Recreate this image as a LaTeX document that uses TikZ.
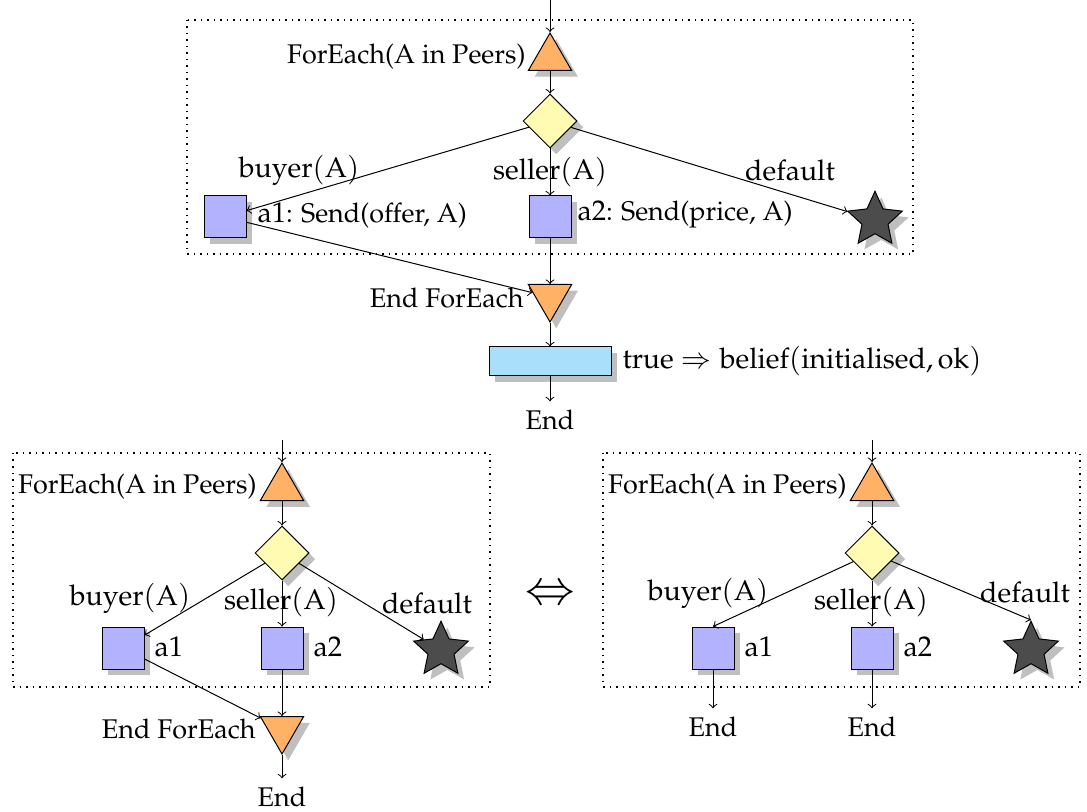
\documentclass[tikz,border=0pt]{standalone}
\usepackage[T1]{fontenc}
\usepackage{mathpazo}
\usetikzlibrary{shapes.geometric,shadows}
\definecolor{rectblue}{HTML}{AADFF9}
\newcommand{\eu}[1]{{\fontsize{11.4pt}{13pt}\selectfont\ensuremath{\mathrm{#1}}}}
\tikzset{
  shad/.style={drop shadow={shadow xshift=2.5pt,shadow yshift=-2.5pt,fill=black,opacity=0.25}},
  actbox/.style={rectangle,draw,fill=blue!30,minimum size=16.8pt,inner sep=0pt,shad},
  fortri/.style={regular polygon,regular polygon sides=3,draw,fill=orange!60,minimum size=20pt,inner sep=0pt,shad},
  endtri/.style={fortri,shape border rotate=180},
  choice/.style={diamond,draw,fill=yellow!30,minimum width=21.6pt,minimum height=21.6pt,inner sep=0pt,shad},
  fin/.style={star,star points=5,star point ratio=2.1,draw,fill=black!70,minimum size=23pt,inner sep=0pt,shad},
  belbox/.style={rectangle,draw,fill=rectblue,minimum width=48.8pt,minimum height=11.6pt,inner sep=0pt,shad},
  grp/.style={draw,dotted,line width=0.6pt},
  arr/.style={->},
  txt/.style={inner sep=0pt}
}
\begin{document}
\begin{tikzpicture}[x=0.4pt,y=-0.4pt,every node/.style={font=\fontsize{10.8pt}{13pt}\selectfont}]
\useasboundingbox (0,0) rectangle (1087,812);
% ---------------- top diagram ----------------
\draw[grp] (187,20) rectangle (913,254);
\coordinate (inA) at (550,0);
\node[fortri] (tA) at (550,58) {};
\node[choice] (dA) at (550,121) {};
\node[actbox] (a1A) at (225,217) {};
\node[actbox] (a2A) at (550,217) {};
\node[fin] (sA) at (875,220) {};
\node[endtri] (eA) at (550,297) {};
\node[belbox] (rA) at (550,361.5) {};
\node (endA) at (550,420) {End};
\node[txt,anchor=east] (ltA) at (526,57) {ForEach(A in Peers)};
\node[txt,anchor=east] (leA) at (524,298) {End ForEach};
\node[txt,anchor=west] (la1A) at (257,215) {\eu{a1}: Send(offer, A)};
\node[txt,anchor=west] (la2A) at (577,215) {\eu{a2}: Send(price, A)};
\node[txt,anchor=west] (lrA) at (622,361) {\eu{true \Rightarrow belief(initialised, ok)}};
\node[txt] (lbA) at (299,170) {\eu{buyer(A)}};
\node[txt] (lsA) at (550,172) {\eu{seller(A)}};
\node[txt] (ldA) at (790,170) {\eu{default}};
\draw[arr] (inA) -- (tA);
\draw[arr] (tA) -- (dA);
\draw[arr] (dA) -- (a1A);
\draw[arr] (dA) -- (a2A);
\draw[arr] (dA) -- (sA);
\draw[arr] (a1A) -- (eA);
\draw[arr] (a2A) -- (eA);
\draw[arr] (eA) -- (rA);
\draw[arr] (rA) -- (endA);
% ---------------- bottom left ----------------
\draw[grp] (13,453) rectangle (490,687);
\coordinate (inB) at (282,440);
\node[fortri] (tB) at (282,488) {};
\node[choice] (dB) at (282,553) {};
\node[actbox] (a1B) at (123,648) {};
\node[actbox] (a2B) at (282,648) {};
\node[fin] (sB) at (441,650) {};
\node[endtri] (eB) at (282,729) {};
\node (endB) at (282,797) {End};
\node[txt,anchor=east] (ltB) at (257,487) {ForEach(A in Peers)};
\node[txt,anchor=east] (leB) at (256,729) {End ForEach};
\node[txt,anchor=west] (la1B) at (154,647) {\eu{a1}};
\node[txt,anchor=west] (la2B) at (313,647) {\eu{a2}};
\node[txt] (lbB) at (130,598) {\eu{buyer(A)}};
\node[txt] (lsB) at (281,602) {\eu{seller(A)}};
\node[txt] (ldB) at (427,603) {\eu{default}};
\draw[arr] (inB) -- (tB);
\draw[arr] (tB) -- (dB);
\draw[arr] (dB) -- (a1B);
\draw[arr] (dB) -- (a2B);
\draw[arr] (dB) -- (sB);
\draw[arr] (a1B) -- (eB);
\draw[arr] (a2B) -- (eB);
\draw[arr] (eB) -- (endB);
% ---------------- equivalence ----------------
\node[font=\fontsize{19pt}{22pt}\selectfont] (eq) at (550,595) {$\Leftrightarrow$};
% ---------------- bottom right ----------------
\draw[grp] (603,453) rectangle (1080,687);
\coordinate (inC) at (872,440);
\node[fortri] (tC) at (872,488) {};
\node[choice] (dC) at (872,553) {};
\node[actbox] (a1C) at (713,648) {};
\node[actbox] (a2C) at (872,648) {};
\node[fin] (sC) at (1031,650) {};
\node (endC1) at (713,727) {End};
\node (endC2) at (872,727) {End};
\node[txt,anchor=east] (ltC) at (847,487) {ForEach(A in Peers)};
\node[txt,anchor=west] (la1C) at (744,647) {\eu{a1}};
\node[txt,anchor=west] (la2C) at (903,647) {\eu{a2}};
\node[txt] (lbC) at (708,593) {\eu{buyer(A)}};
\node[txt] (lsC) at (871,602) {\eu{seller(A)}};
\node[txt] (ldC) at (1025,592) {\eu{default}};
\draw[arr] (inC) -- (tC);
\draw[arr] (tC) -- (dC);
\draw[arr] (dC) -- (a1C.north);
\draw[arr] (dC) -- (a2C);
\draw[arr] (dC) -- (sC.north);
\draw[arr] (a1C) -- (endC1);
\draw[arr] (a2C) -- (endC2);
\end{tikzpicture}
\end{document}
